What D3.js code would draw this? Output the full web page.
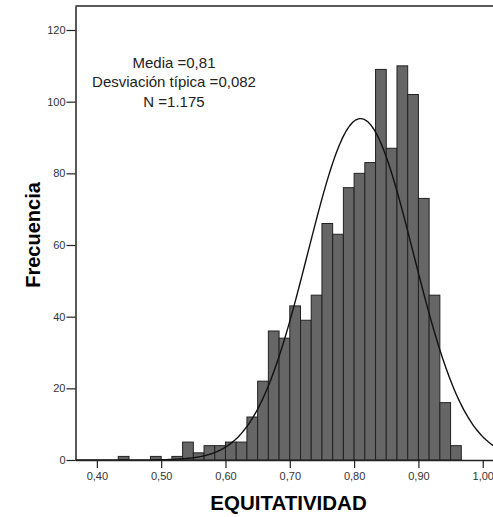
<!DOCTYPE html>
<html>
<head>
<meta charset="utf-8">
<script src="https://cdn.jsdelivr.net/npm/d3@7"></script>
<style>
    body { margin: 0; background: #fff; }
    svg { display: block; font-family: "Liberation Sans", Arial, sans-serif; }
</style>
</head>
<body>
<div id="chart"></div>
<script>
// histogram bins start at 0,40 and are 1/60 wide
const bin_start = 0.40;
const bin_width = 1 / 60;
const counts = [0, 0, 1, 0, 0, 1, 0, 1, 5, 2, 4, 4, 5, 5, 12, 22, 36, 34, 43, 39,
                46, 66, 63, 76, 80, 83, 109, 87, 110, 102, 73, 46, 16, 4];

// summary stats printed on the chart (used for the normal curve too)
const stats_mean = 0.81;
const stats_sd = 0.082;
const stats_n = 1175;
const stats_lines = ["Media =0,81", "Desviación típica =0,082", "N =1.175"];

const x_ticks = [0.40, 0.50, 0.60, 0.70, 0.80, 0.90, 1.00];
const y_ticks = [0, 20, 40, 60, 80, 100, 120];
const x_label = "EQUITATIVIDAD";
const y_label = "Frecuencia";

const width = 493, height = 517;
const x_domain = [0.3668, 1.034];
const y_domain = [0, 126.7];

const svg = d3.select("#chart")
    .append("svg")
    .attr("width", width)
    .attr("height", height);

const x_scale = d3.scaleLinear().domain(x_domain).range([75.5, 504.6]);
const y_scale = d3.scaleLinear().domain(y_domain).range([460, 6]);

const bins = counts.map((c, i) => ({
    x0: bin_start + i * bin_width,
    x1: bin_start + (i + 1) * bin_width,
    count: c
})).filter(d => d.count > 0);

// bars
svg.append("g")
    .selectAll("rect")
    .data(bins)
    .join("rect")
    .attr("x", d => x_scale(d.x0))
    .attr("y", d => y_scale(d.count))
    .attr("width", d => x_scale(d.x1) - x_scale(d.x0))
    .attr("height", d => y_scale(0) - y_scale(d.count))
    .attr("fill", "#666")
    .attr("stroke", "#222")
    .attr("stroke-width", 1);

// normal curve from the printed mean / sd / N
const scale_factor = stats_n * bin_width / (stats_sd * Math.sqrt(2 * Math.PI));
const curve_pts = d3.range(x_domain[0], x_domain[1], 0.002).map(v => ({
    x: v,
    y: scale_factor * Math.exp(-0.5 * Math.pow((v - stats_mean) / stats_sd, 2))
}));

const line_generator = d3.line()
    .x(d => x_scale(d.x))
    .y(d => y_scale(d.y))
    .curve(d3.curveBasis);

svg.append("path")
    .datum(curve_pts)
    .attr("fill", "none")
    .attr("stroke", "#111")
    .attr("stroke-width", 1.4)
    .attr("d", line_generator);

// frame: top line
svg.append("line")
    .attr("x1", x_scale(x_domain[0]))
    .attr("x2", width)
    .attr("y1", y_scale(y_domain[1]))
    .attr("y2", y_scale(y_domain[1]))
    .attr("stroke", "#222")
    .attr("stroke-width", 1.5);

// axes
const x_axis = d3.axisBottom(x_scale)
    .tickValues(x_ticks)
    .tickSize(8)
    .tickPadding(4)
    .tickSizeOuter(0)
    .tickFormat(d => d.toFixed(2).replace(".", ","));

const y_axis = d3.axisLeft(y_scale)
    .tickValues(y_ticks)
    .tickSize(9)
    .tickPadding(1)
    .tickSizeOuter(0)
    .tickFormat(d => d);

const gx = svg.append("g")
    .attr("transform", `translate(0,${y_scale(0)})`)
    .call(x_axis);

const gy = svg.append("g")
    .attr("transform", `translate(${x_scale(x_domain[0])},0)`)
    .call(y_axis);

[gx, gy].forEach(g => {
    g.select(".domain").attr("stroke", "#222").attr("stroke-width", 1.5);
    g.selectAll(".tick line").attr("stroke", "#222").attr("stroke-width", 1.2);
    g.selectAll(".tick text")
        .attr("fill", "#333")
        .style("font-size", "11px")
        .style("font-family", "Liberation Sans, Arial, sans-serif");
});

// stats text
svg.append("g")
    .selectAll("text")
    .data(stats_lines)
    .join("text")
    .attr("x", 174)
    .attr("y", (d, i) => 68 + i * 19.3)
    .attr("text-anchor", "middle")
    .style("font-size", "15px")
    .attr("fill", "#222")
    .text(d => d);

// x label
svg.append("text")
    .attr("x", 288.5)
    .attr("y", 509.5)
    .attr("text-anchor", "middle")
    .style("font-size", "20.5px")
    .style("font-weight", "bold")
    .attr("fill", "#000")
    .text(x_label);

// y label
svg.append("text")
    .attr("transform", "translate(40,235) rotate(-90)")
    .attr("text-anchor", "middle")
    .style("font-size", "20px")
    .style("font-weight", "bold")
    .attr("fill", "#000")
    .text(y_label);
</script>
</body>
</html>
